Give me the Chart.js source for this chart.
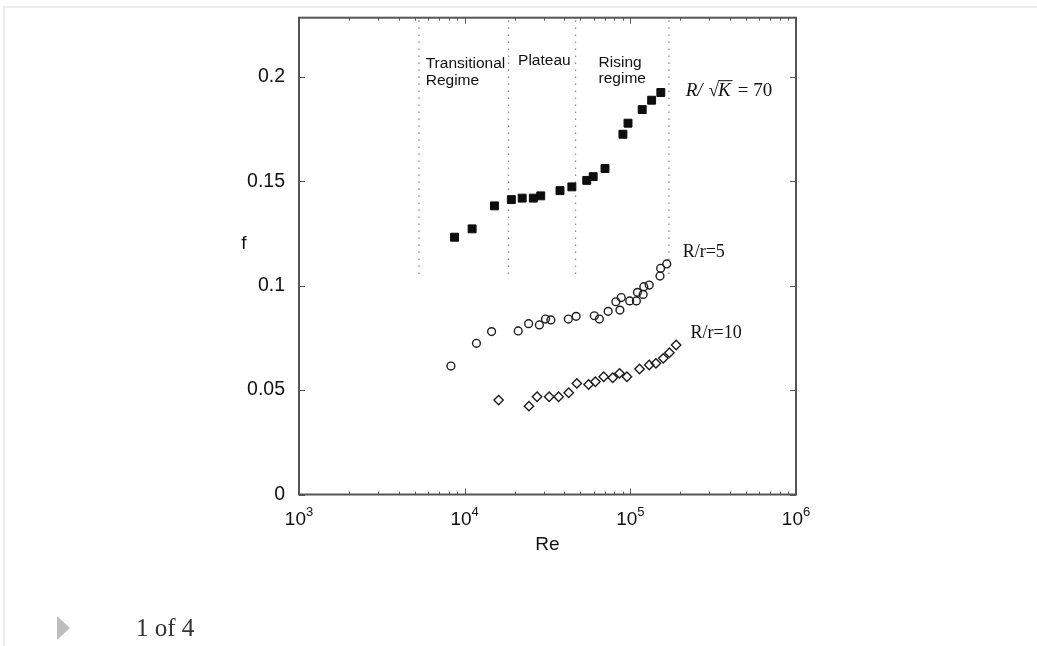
<!DOCTYPE html>
<html>
<head>
<meta charset="utf-8">
<script src="https://cdn.jsdelivr.net/npm/chart.js@4"></script>
<style>
  html, body { margin: 0; padding: 0; background: #fff; }
  body { width: 1037px; height: 646px; position: relative; overflow: hidden; }
  .frame { position: absolute; left: 3px; top: 6px; right: 0; bottom: 0; border-left: 2px solid #ececec; border-top: 2px solid #ececec; }
  #wrap { position: absolute; left: 0; top: 0; width: 1037px; height: 646px; }
  .pager { position: absolute; left: 57px; top: 616px; width: 0; height: 0; border-top: 12px solid transparent; border-bottom: 12px solid transparent; border-left: 13px solid #bdbdbd; }
  .count { position: absolute; left: 136px; top: 613px; font: 25px/30px "Liberation Serif", "Times New Roman", serif; color: #333; }
</style>
</head>
<body>
<div class="frame"></div>
<div id="wrap"><canvas id="myChart" width="1037" height="646"></canvas></div>
<div class="pager"></div>
<div class="count">1 of 4</div>
<script>
// R/sqrt(K) = 70 (filled squares)
var sqRe = [8690, 11090, 15130, 19130, 22240, 25970, 28780, 37620, 44360, 54560, 59670, 70340, 90210, 96830, 117900, 134500, 152800];
var sqF  = [0.1232, 0.1272, 0.1382, 0.1412, 0.1419, 0.1419, 0.1430, 0.1455, 0.1473, 0.1504, 0.1522, 0.1561, 0.1725, 0.1778, 0.1843, 0.1888, 0.1925];

// R/r=5 (open circles)
var ciRe = [8260, 11780, 14540, 21050, 24330, 28250, 30750, 33130, 42240, 47080, 60640, 65030, 73440, 81790, 86530, 88150, 99100, 108800, 110400, 119500, 120600, 130000, 151000, 152400, 165900];
var ciF  = [0.0615, 0.0724, 0.0780, 0.0783, 0.0818, 0.0812, 0.0840, 0.0836, 0.0840, 0.0853, 0.0856, 0.0840, 0.0877, 0.0923, 0.0883, 0.0943, 0.0927, 0.0927, 0.0968, 0.0958, 0.0995, 0.1003, 0.1046, 0.1083, 0.1104];

// R/r=10 (open diamonds)
var diRe = [16030, 24430, 27350, 32360, 36900, 42470, 47530, 55990, 61480, 69070, 78360, 86070, 95400, 113600, 130000, 142700, 158100, 172100, 189000];
var diF  = [0.0452, 0.0423, 0.0468, 0.0468, 0.0468, 0.0487, 0.0532, 0.0527, 0.0540, 0.0564, 0.0559, 0.0580, 0.0564, 0.0601, 0.0620, 0.0628, 0.0652, 0.0679, 0.0716];

// regime boundaries (dotted lines)
var bounds = [5300, 18400, 46700, 171000];
var boundLow = 0.1056;

// axes
var xDecades = [1e3, 1e4, 1e5, 1e6];
var xMinor = [2, 3, 4, 5, 6, 7, 8, 9];
var yTicks = [0, 0.05, 0.1, 0.15, 0.2];
var yMax = 0.2283;

function pts(xs, ys) {
  return xs.map(function(v, i) { return {x: v, y: ys[i]}; });
}

var datasets = bounds.map(function(b) {
  return {
    data: [{x: b, y: boundLow}, {x: b, y: yMax}],
    showLine: true,
    borderColor: '#8c8c8c',
    borderWidth: 1.3,
    borderDash: [1.5, 5.5],
    pointRadius: 0,
    order: 5
  };
});
datasets.push({
  label: 'R/sqrt(K)=70', data: pts(sqRe, sqF),
  pointStyle: 'rect', pointRadius: 5.6,
  backgroundColor: '#0d0d0d', borderColor: '#0d0d0d', borderWidth: 1
});
datasets.push({
  label: 'R/r=5', data: pts(ciRe, ciF),
  pointStyle: 'circle', pointRadius: 3.9,
  backgroundColor: 'rgba(0,0,0,0)', borderColor: '#1e1e1e', borderWidth: 1.4
});
datasets.push({
  label: 'R/r=10', data: pts(diRe, diF),
  pointStyle: 'rectRot', pointRadius: 4.7,
  backgroundColor: 'rgba(0,0,0,0)', borderColor: '#1e1e1e', borderWidth: 1.4
});

var SANS = '"Liberation Sans", Arial, sans-serif';
var SERIF = '"Liberation Serif", "Times New Roman", serif';

// text placed in data units
var notes = [
  {text: 'Transitional', x: 5820, y: 0.2043},
  {text: 'Regime', x: 5820, y: 0.1962},
  {text: 'Plateau', x: 21000, y: 0.2055},
  {text: 'Rising', x: 64300, y: 0.2045},
  {text: 'regime', x: 64300, y: 0.1969}
];

var frame = {
  id: 'frame',
  afterDraw: function(chart) {
    var ctx = chart.ctx, a = chart.chartArea;
    var xs = chart.scales.x, ys = chart.scales.y;
    ctx.save();

    // box
    ctx.strokeStyle = '#555';
    ctx.lineWidth = 2;
    ctx.strokeRect(a.left, a.top, a.right - a.left, a.bottom - a.top);

    // inside ticks
    ctx.lineWidth = 1;
    ctx.strokeStyle = '#555';
    ctx.beginPath();
    xs.ticks.forEach(function(t) {
      var e = Math.log10(t.value);
      var major = Math.abs(e - Math.round(e)) < 1e-9;
      var len = major ? 6 : 3;
      var px = Math.round(xs.getPixelForValue(t.value)) + 0.5;
      ctx.moveTo(px, a.bottom); ctx.lineTo(px, a.bottom - len);
      ctx.moveTo(px, a.top); ctx.lineTo(px, a.top + len);
    });
    ys.ticks.forEach(function(t) {
      var py = Math.round(ys.getPixelForValue(t.value)) + 0.5;
      ctx.moveTo(a.left, py); ctx.lineTo(a.left + 6, py);
      ctx.moveTo(a.right, py); ctx.lineTo(a.right - 6, py);
    });
    ctx.stroke();

    // x labels 10^n
    ctx.fillStyle = '#111';
    ctx.textBaseline = 'alphabetic';
    ctx.textAlign = 'left';
    xs.ticks.forEach(function(t) {
      var e = Math.log10(t.value);
      if (Math.abs(e - Math.round(e)) > 1e-9) return;
      var ex = String(Math.round(e));
      var px = xs.getPixelForValue(t.value);
      ctx.font = '19px ' + SANS;
      var w1 = ctx.measureText('10').width;
      ctx.font = '13px ' + SANS;
      var w2 = ctx.measureText(ex).width;
      var left = px - (w1 + w2) / 2;
      ctx.font = '19px ' + SANS;
      ctx.fillText('10', left, a.bottom + 30.5);
      ctx.font = '13px ' + SANS;
      ctx.fillText(ex, left + w1, a.bottom + 21);
    });

    // y title, upright
    ctx.font = '19px ' + SANS;
    ctx.textAlign = 'center';
    ctx.textBaseline = 'middle';
    ctx.fillText('f', a.left - 55, 244);

    // regime labels
    ctx.font = '15.5px ' + SANS;
    ctx.textAlign = 'left';
    ctx.textBaseline = 'alphabetic';
    notes.forEach(function(n) {
      ctx.fillText(n.text, xs.getPixelForValue(n.x), ys.getPixelForValue(n.y));
    });

    // series labels
    ctx.textBaseline = 'middle';
    ctx.font = '18px ' + SERIF;
    ctx.fillText('R/r=5', xs.getPixelForValue(207000), ys.getPixelForValue(0.116));
    ctx.fillText('R/r=10', xs.getPixelForValue(231000), ys.getPixelForValue(0.077));

    // R/ sqrt(K) = 70
    var cx = xs.getPixelForValue(215800);
    var base = ys.getPixelForValue(0.1936) + 6;
    ctx.textBaseline = 'alphabetic';
    ctx.font = 'italic 19px ' + SERIF;
    ctx.fillText('R/', cx, base);
    cx += ctx.measureText('R/').width + 6;
    ctx.font = '19px ' + SERIF;
    ctx.fillText('\u221A', cx, base);
    cx += ctx.measureText('\u221A').width - 1;
    ctx.font = 'italic 19px ' + SERIF;
    var kw = ctx.measureText('K').width;
    ctx.fillText('K', cx, base);
    ctx.fillRect(cx, base - 16, kw + 2, 1);
    cx += kw + 7;
    ctx.font = '19px ' + SERIF;
    ctx.fillText('= 70', cx, base);

    ctx.restore();
  }
};

new Chart(document.getElementById('myChart'), {
  type: 'scatter',
  data: { datasets: datasets },
  options: {
    responsive: false,
    animation: false,
    layout: { padding: { left: 219, top: 15, right: 241, bottom: 90 } },
    plugins: { legend: { display: false }, tooltip: { enabled: false } },
    scales: {
      x: {
        type: 'logarithmic',
        min: 1e3,
        max: 1e6,
        grid: { display: false },
        border: { display: false },
        ticks: { display: false },
        afterBuildTicks: function(s) {
          var list = [];
          xDecades.forEach(function(d, i) {
            list.push({value: d});
            if (i < xDecades.length - 1) xMinor.forEach(function(m) { list.push({value: d * m}); });
          });
          s.ticks = list;
        },
        afterFit: function(s) { s.height = 61.5; },
        title: { display: true, text: 'Re', color: '#111', font: { size: 19, family: SANS }, padding: 0 }
      },
      y: {
        min: 0,
        max: yMax,
        grid: { display: false },
        border: { display: false },
        afterBuildTicks: function(s) {
          s.ticks = yTicks.map(function(v) { return {value: v}; });
        },
        afterFit: function(s) { s.width = 80; },
        ticks: {
          padding: 6,
          color: '#111',
          font: { size: 19.5, family: SANS },
          callback: function(v) { return String(+(+v).toFixed(2)); }
        }
      }
    }
  },
  plugins: [frame]
});
</script>
</body>
</html>
